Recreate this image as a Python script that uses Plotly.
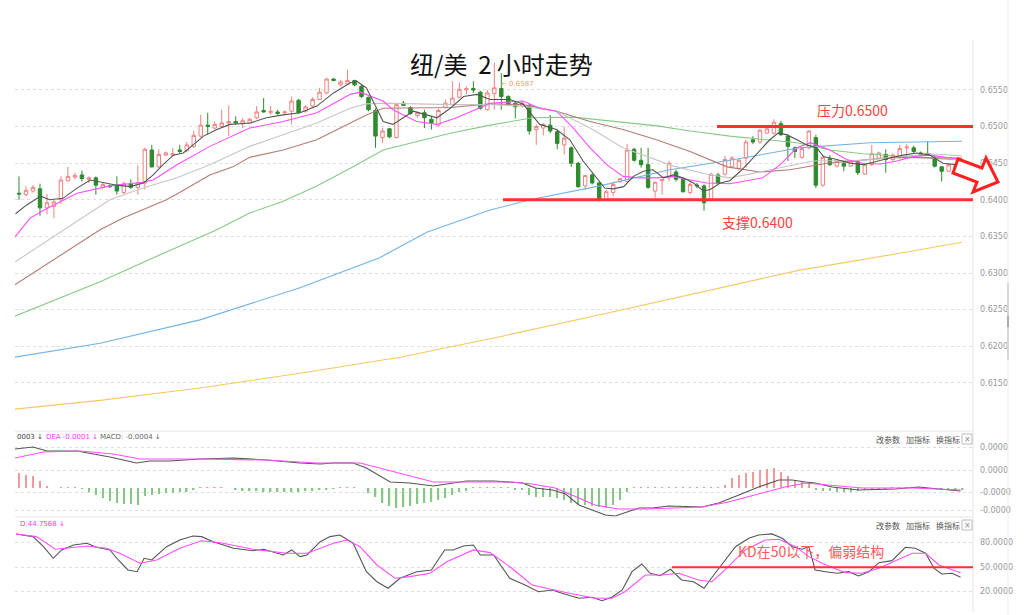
import plotly.graph_objects as go

W, H = 1024, 615
ML, MR = 15, 51
PW = W - ML - MR
CJK = "Noto Sans CJK SC"

# ---------------- candle data (2h NZD/USD) ----------------
open_ = [0.6409, 0.6407, 0.6412, 0.6415, 0.6389, 0.6391, 0.6400, 0.6426, 0.6431, 0.6434,
         0.6428, 0.6430, 0.6417, 0.6419, 0.6420, 0.6410, 0.6422, 0.6417, 0.6423, 0.6468,
         0.6445, 0.6461, 0.6461, 0.6468, 0.6467, 0.6473, 0.6487, 0.6502, 0.6498, 0.6500,
         0.6505, 0.6507, 0.6504, 0.6505, 0.6512, 0.6522, 0.6519, 0.6520, 0.6519, 0.6521,
         0.6536, 0.6521, 0.6528, 0.6537, 0.6546, 0.6565, 0.6557, 0.6558, 0.6563, 0.6555,
         0.6540, 0.6522, 0.6485, 0.6497, 0.6485, 0.6532, 0.6526, 0.6515, 0.6519, 0.6510,
         0.6502, 0.6526, 0.6530, 0.6540, 0.6550, 0.6552, 0.6547, 0.6523, 0.6545, 0.6552,
         0.6541, 0.6532, 0.6528, 0.6529, 0.6496, 0.6498, 0.6502, 0.6493, 0.6475, 0.6471,
         0.6450, 0.6419, 0.6434, 0.6423, 0.6400, 0.6410, 0.6425, 0.6425, 0.6469, 0.6454,
         0.6448, 0.6412, 0.6426, 0.6430, 0.6438, 0.6428, 0.6410, 0.6420, 0.6419, 0.6400,
         0.6434, 0.6435, 0.6445, 0.6443, 0.6457, 0.6482, 0.6479, 0.6491, 0.6491, 0.6504,
         0.6487, 0.6471, 0.6458, 0.6471, 0.6485, 0.6420, 0.6456, 0.6446, 0.6450, 0.6446,
         0.6452, 0.6435, 0.6448, 0.6457, 0.6462, 0.6455, 0.6458, 0.6471, 0.6471, 0.6464,
         0.6463, 0.6457, 0.6445, 0.6439, 0.6444, 0.6448]
high = [0.6432, 0.6419, 0.6420, 0.6422, 0.6408, 0.6400, 0.6432, 0.6445, 0.6437, 0.6440,
        0.6432, 0.6432, 0.6423, 0.6421, 0.6432, 0.6425, 0.6428, 0.6447, 0.6471, 0.6475,
        0.6469, 0.6466, 0.6471, 0.6475, 0.6479, 0.6494, 0.6516, 0.6519, 0.6507, 0.6523,
        0.6529, 0.6514, 0.6512, 0.6512, 0.6528, 0.6539, 0.6528, 0.6523, 0.6522, 0.6541,
        0.6538, 0.6529, 0.6540, 0.6553, 0.6567, 0.6566, 0.6564, 0.6578, 0.6564, 0.6557,
        0.6541, 0.6525, 0.6498, 0.6498, 0.6532, 0.6535, 0.6528, 0.6521, 0.6523, 0.6514,
        0.6525, 0.6537, 0.6562, 0.6560, 0.6555, 0.6562, 0.6549, 0.6550, 0.6587, 0.6573,
        0.6543, 0.6535, 0.6535, 0.6531, 0.6503, 0.6505, 0.6516, 0.6496, 0.6500, 0.6473,
        0.6452, 0.6434, 0.6437, 0.6425, 0.6414, 0.6425, 0.6430, 0.6476, 0.6471, 0.6471,
        0.6471, 0.6425, 0.6428, 0.6453, 0.6441, 0.6430, 0.6425, 0.6423, 0.6421, 0.6437,
        0.6437, 0.6460, 0.6460, 0.6456, 0.6482, 0.6487, 0.6497, 0.6500, 0.6510, 0.6508,
        0.6489, 0.6473, 0.6472, 0.6495, 0.6489, 0.6461, 0.6461, 0.6455, 0.6453, 0.6454,
        0.6454, 0.6450, 0.6475, 0.6466, 0.6469, 0.6464, 0.6475, 0.6476, 0.6474, 0.6466,
        0.6480, 0.6460, 0.6446, 0.6450, 0.6450, 0.6450]
low = [0.6400, 0.6405, 0.6410, 0.6378, 0.6380, 0.6375, 0.6394, 0.6425, 0.6428, 0.6425,
       0.6423, 0.6407, 0.6415, 0.6416, 0.6407, 0.6408, 0.6415, 0.6407, 0.6414, 0.6444,
       0.6444, 0.6460, 0.6460, 0.6463, 0.6465, 0.6471, 0.6485, 0.6489, 0.6496, 0.6499,
       0.6487, 0.6503, 0.6498, 0.6504, 0.6510, 0.6519, 0.6516, 0.6516, 0.6516, 0.6503,
       0.6518, 0.6519, 0.6526, 0.6537, 0.6544, 0.6562, 0.6555, 0.6557, 0.6555, 0.6539,
       0.6521, 0.6471, 0.6478, 0.6484, 0.6484, 0.6528, 0.6516, 0.6512, 0.6498, 0.6496,
       0.6500, 0.6525, 0.6529, 0.6539, 0.6544, 0.6546, 0.6523, 0.6522, 0.6523, 0.6523,
       0.6528, 0.6511, 0.6526, 0.6489, 0.6475, 0.6488, 0.6491, 0.6469, 0.6462, 0.6445,
       0.6416, 0.6413, 0.6421, 0.6398, 0.6399, 0.6405, 0.6423, 0.6425, 0.6452, 0.6444,
       0.6415, 0.6403, 0.6407, 0.6425, 0.6425, 0.6410, 0.6407, 0.6416, 0.6385, 0.6398,
       0.6421, 0.6433, 0.6443, 0.6440, 0.6444, 0.6476, 0.6476, 0.6490, 0.6489, 0.6487,
       0.6453, 0.6457, 0.6456, 0.6469, 0.6416, 0.6418, 0.6446, 0.6444, 0.6439, 0.6445,
       0.6434, 0.6434, 0.6446, 0.6455, 0.6437, 0.6453, 0.6456, 0.6458, 0.6464, 0.6460,
       0.6460, 0.6444, 0.6425, 0.6438, 0.6443, 0.6441]
close = [0.6408, 0.6413, 0.6417, 0.6389, 0.6396, 0.6397, 0.6427, 0.6432, 0.6433, 0.6429,
         0.6430, 0.6420, 0.6421, 0.6418, 0.6412, 0.6422, 0.6417, 0.6423, 0.6469, 0.6445,
         0.6462, 0.6464, 0.6463, 0.6466, 0.6475, 0.6488, 0.6502, 0.6500, 0.6503, 0.6505,
         0.6507, 0.6505, 0.6508, 0.6510, 0.6520, 0.6520, 0.6521, 0.6518, 0.6520, 0.6535,
         0.6519, 0.6527, 0.6537, 0.6547, 0.6565, 0.6563, 0.6561, 0.6563, 0.6557, 0.6541,
         0.6523, 0.6487, 0.6494, 0.6486, 0.6530, 0.6529, 0.6518, 0.6519, 0.6512, 0.6505,
         0.6522, 0.6532, 0.6539, 0.6551, 0.6552, 0.6550, 0.6525, 0.6546, 0.6553, 0.6541,
         0.6530, 0.6527, 0.6532, 0.6494, 0.6500, 0.6503, 0.6494, 0.6477, 0.6484, 0.6450,
         0.6418, 0.6433, 0.6423, 0.6399, 0.6411, 0.6421, 0.6429, 0.6468, 0.6454, 0.6448,
         0.6417, 0.6424, 0.6428, 0.6450, 0.6428, 0.6411, 0.6421, 0.6419, 0.6396, 0.6435,
         0.6423, 0.6455, 0.6457, 0.6454, 0.6479, 0.6479, 0.6495, 0.6497, 0.6506, 0.6489,
         0.6473, 0.6466, 0.6470, 0.6494, 0.6420, 0.6458, 0.6448, 0.6453, 0.6446, 0.6452,
         0.6437, 0.6448, 0.6463, 0.6464, 0.6455, 0.6461, 0.6470, 0.6472, 0.6466, 0.6461,
         0.6462, 0.6446, 0.6439, 0.6448, 0.6448, 0.6443]
bars = list(range(len(close)))

# ---------------- moving averages (bar index, price) ----------------
ma5 = [(-0.5, .6381), (1.1, .6393), (3.1, .6405), (4.4, .6400), (6.3, .6402), (8.3, .6416), (10.2, .6427),
       (12.1, .6423), (14.0, .6420), (15.9, .6418), (17.8, .6423), (19.2, .6434), (20.6, .6448), (22.1, .6461),
       (23.5, .6464), (24.9, .6475), (26.4, .6487), (28.3, .6496), (30.2, .6503), (33.1, .6505), (35.4, .6512),
       (37.8, .6516), (40.2, .6519), (42.6, .6528), (45.0, .6546), (47.4, .6560), (48.3, .6562), (49.7, .6553),
       (51.2, .6525), (52.1, .6507), (53.5, .6503), (55.0, .6512), (56.4, .6521), (58.3, .6516), (59.8, .6512),
       (61.7, .6525), (63.6, .6541), (65.5, .6544), (67.4, .6537), (70.2, .6537), (72.1, .6531), (73.1, .6519),
       (74.5, .6503), (76.9, .6496), (78.8, .6482), (80.7, .6453), (82.6, .6430), (83.8, .6416), (85.0, .6415),
       (86.5, .6418), (87.9, .6432), (89.3, .6439), (90.7, .6441), (92.2, .6430), (93.6, .6434), (95.0, .6430),
       (96.5, .6423), (97.9, .6412), (98.9, .6414), (100.3, .6423), (101.7, .6426), (103.2, .6439), (104.6, .6453),
       (106.0, .6468), (107.4, .6482), (108.6, .6491), (109.8, .6489), (111.3, .6482), (112.7, .6475),
       (114.1, .6471), (115.1, .6459), (117.0, .6455), (118.9, .6450), (120.8, .6448), (122.7, .6453),
       (124.6, .6457), (126.5, .6461), (128.4, .6464), (130.3, .6461), (132.2, .6450), (134.9, .6447)]
ma10 = [(-0.6, .6349), (1.6, .6375), (3.4, .6385), (8.3, .6409), (13.0, .6419), (17.7, .6424), (19.2, .6427),
        (22.6, .6448), (27.3, .6473), (33.0, .6498), (37.8, .6507), (42.6, .6519), (47.4, .6544), (48.8, .6547),
        (52.1, .6535), (53.5, .6523), (56.9, .6507), (59.8, .6503), (62.6, .6512), (67.4, .6532), (72.1, .6535),
        (74.5, .6525), (76.9, .6521), (79.3, .6498), (81.7, .6471), (84.1, .6448), (86.4, .6432), (88.8, .6430),
        (91.2, .6430), (93.6, .6432), (96.0, .6427), (98.4, .6423), (101.7, .6422), (106.4, .6430), (108.9, .6448),
        (111.3, .6471), (113.2, .6478), (116.0, .6468), (118.4, .6455), (120.7, .6450), (123.2, .6449),
        (125.6, .6453), (127.9, .6459), (130.3, .6461), (134.9, .6455)]
ma20 = [(-0.6, .6315), (9.0, .6375), (13.0, .6400), (17.7, .6416), (22.6, .6430), (27.3, .6448), (33.0, .6473),
        (37.8, .6489), (42.6, .6505), (47.4, .6525), (49.7, .6531), (52.1, .6532), (56.9, .6531), (61.7, .6530),
        (67.4, .6530), (72.1, .6528), (76.9, .6521), (81.7, .6498), (86.4, .6471), (91.2, .6455), (93.6, .6446),
        (98.4, .6435), (101.7, .6430), (107.0, .6440), (113.6, .6453), (120.7, .6454), (130.3, .6463),
        (134.9, .6460)]
ma30 = [(-0.6, .6284), (11.6, .6359), (14.9, .6375), (17.7, .6386), (21.1, .6400), (22.6, .6408), (27.3, .6434),
        (30.6, .6445), (33.0, .6458), (37.8, .6468), (42.6, .6482), (47.4, .6505), (49.7, .6516), (52.1, .6525),
        (56.9, .6525), (61.7, .6526), (67.4, .6531), (72.1, .6530), (76.9, .6521), (81.7, .6507), (86.4, .6496),
        (91.2, .6482), (96.0, .6466), (101.3, .6445), (106.0, .6438), (110.3, .6441), (115.6, .6450),
        (125.0, .6458), (134.9, .6457)]
ma60 = [(-0.6, .6241), (11.6, .6288), (20.2, .6325), (28.3, .6359), (33.0, .6382), (37.8, .6398), (42.6, .6419),
        (47.4, .6443), (52.1, .6468), (56.9, .6480), (61.7, .6491), (67.4, .6502), (73.5, .6512), (79.3, .6513),
        (86.4, .6506), (91.3, .6501), (96.0, .6494), (101.7, .6487), (111.3, .6478), (116.0, .6468),
        (120.7, .6463), (125.6, .6460), (130.3, .6457), (134.9, .6454)]
ma120 = [(-0.6, .6185), (11.6, .6204), (25.9, .6236), (40.2, .6280), (51.6, .6321), (58.4, .6356), (67.4, .6386),
         (73.1, .6400), (83.1, .6419), (93.1, .6441), (101.7, .6454), (111.7, .6471), (121.7, .6478),
         (134.9, .6480)]
ma250 = [(-0.6, .6114), (11.6, .6126), (25.9, .6143), (40.2, .6163), (54.5, .6185), (68.8, .6213), (83.1, .6243),
         (97.4, .6274), (111.7, .6304), (126.0, .6327), (134.9, .6342)]

# ---------------- MACD ----------------
macd_hist = [0.00015, 0.00013, 0.00012, 0.00007, 0.00002, 0.0, 0.00001, 0.00001, 0.00001, -0.00001,
             -0.00004, -0.00007, -0.0001, -0.00013, -0.00015, -0.00016, -0.00016, -0.00017, -0.00008, -0.00007,
             -0.00006, -0.00005, -0.00005, -0.00004, -0.00004, -0.00002, 0.00001, 0.00001, 0.00001, 0.00001,
             0.0, -0.00002, -0.00003, -0.00003, -0.00003, -0.00004, -0.00004, -0.00004, -0.00004, -0.00004,
             -0.00004, -0.00003, -0.00003, -0.00002, -0.00002, -0.00001, 0.00001, 0.00001, 0.00001, 0.0,
             -0.00005, -0.00009, -0.00015, -0.00018, -0.0002, -0.00019, -0.00018, -0.00016, -0.00015, -0.00014,
             -0.00012, -0.0001, -0.00007, -0.00004, -0.00003, 0.00001, 0.00001, 0.00001, 0.00001, 0.00001,
             0.00001, -0.00002, -0.00002, -0.00007, -0.00009, -0.00009, -0.00009, -0.0001, -0.00012, -0.00015,
             -0.00016, -0.00017, -0.00018, -0.00019, -0.0002, -0.00017, -0.00012, -0.00004, 0.00001, 0.00001,
             0.00001, 0.00001, 0.00001, 0.00001, 0.00001, 0.00001, 0.00001, 0.00001, 0.00001, 0.00001,
             0.00001, 0.00003, 0.0001, 0.00013, 0.00015, 0.00016, 0.00018, 0.00019, 0.0002, 0.00016,
             0.00012, 0.00008, 0.00006, 0.00005, -0.00002, -0.00003, -0.00003, -0.00004, -0.00004, -0.00004,
             -0.00003, -0.00002, -0.00002, -0.00001, -0.00001, 0.00001, 0.00001, 0.00001, 0.00001, 0.0,
             -0.00001, -0.00001, -0.00002, -0.00002, -0.00002, -0.00002]
dif = [(-0.6, .00039), (2.0, .00041), (4.0, .00037), (8.3, .00037), (13.0, .00031), (16.8, .00025), (18.7, .00027),
       (21.6, .00027), (25.9, .00029), (30.7, .00030), (35.4, .00028), (40.2, .00025), (43.1, .00024), (45.0, .00025),
       (47.8, .00025), (49.7, .00020), (53.1, .00006), (55.9, .00005), (59.3, .00002), (61.2, .00004), (64.0, .00007),
       (67.9, .00007), (70.5, .00006), (72.0, .00005), (73.9, 0.0), (76.3, -.00002), (78.2, -.00006), (80.1, -.00017),
       (82.0, -.00022), (83.9, -.00027), (85.3, -.00028), (86.7, -.00025), (88.7, -.00020), (90.6, -.00020),
       (92.9, -.00018), (97.7, -.00019), (100.1, -.00015), (103.0, -.00007), (105.8, .00001), (108.7, .00008),
       (110.6, .00008), (112.5, .00006), (113.9, .00005), (116.3, .00001), (120.1, -.00002), (125.4, -.00001),
       (128.7, .00001), (131.6, -.00001), (134.7, -.00003)]
dea = [(-0.6, .00030), (3.5, .00036), (8.7, .00037), (13.5, .00034), (17.3, .00029), (25.9, .00029), (35.4, .00028),
       (42.6, .00025), (48.8, .00025), (54.5, .00015), (59.3, .00006), (64.0, .00006), (70.5, .00006), (73.4, .00004),
       (76.7, 0.0), (80.1, -.00010), (82.4, -.00017), (85.8, -.00021), (89.6, -.00021), (97.7, -.00019),
       (101.5, -.00014), (106.3, -.00005), (109.6, .00001), (112.5, .00005), (115.8, .00003), (120.6, 0.0),
       (127.8, 0.0), (134.7, -.00002)]

# ---------------- KD ----------------
kd_k = [(-0.4, 90.7), (2.0, 87.4), (3.5, 75.1), (4.9, 60.9), (6.1, 71.1), (7.8, 77.2), (9.7, 79.3), (11.1, 74.4),
        (13.0, 71.1), (14.2, 58.8), (15.6, 46.6), (16.9, 44.5), (17.9, 60.9), (19.0, 58.8), (21.1, 75.1), (23.0, 83.3),
        (24.9, 88.2), (26.1, 87.4), (27.8, 81.2), (30.7, 73.1), (33.5, 70.2), (35.0, 71.9), (37.8, 64.9), (39.0, 71.1),
        (40.2, 62.9), (41.2, 64.9), (43.1, 81.2), (44.5, 87.4), (45.9, 89.4), (47.8, 79.3), (49.7, 44.5), (51.2, 32.2),
        (52.8, 24.2), (54.5, 36.4), (56.9, 44.5), (59.0, 46.6), (60.9, 71.1), (62.1, 71.1), (63.6, 76.0), (65.0, 77.2),
        (66.0, 64.9), (67.9, 64.9), (70.2, 36.4), (72.4, 28.2), (74.3, 20.0), (76.3, 22.1), (77.7, 18.0), (80.1, 11.9),
        (82.0, 13.1), (83.4, 9.0), (84.8, 13.1), (86.3, 22.1), (87.7, 44.5), (89.1, 53.9), (90.3, 42.5), (91.7, 39.6),
        (93.2, 47.4), (94.8, 34.3), (96.5, 32.2), (98.0, 24.2), (99.4, 40.4), (101.0, 58.8), (102.5, 75.1),
        (104.4, 85.4), (105.8, 89.4), (107.7, 90.7), (109.2, 85.4), (110.6, 75.1), (112.0, 71.9), (113.0, 75.1),
        (113.9, 46.6), (115.4, 44.5), (117.0, 42.5), (118.7, 44.5), (120.1, 39.2), (121.6, 44.5), (123.0, 55.5),
        (124.9, 58.0), (126.8, 74.4), (128.2, 73.1), (129.7, 67.0), (130.9, 48.7), (132.0, 41.7), (133.5, 42.5),
        (134.7, 37.6)]
kd_d = [(-0.4, 90.7), (2.5, 87.4), (5.2, 71.9), (6.8, 73.1), (9.7, 76.0), (12.5, 73.1), (14.4, 67.0), (17.3, 54.8),
        (19.7, 58.8), (23.0, 73.1), (26.1, 82.4), (28.8, 80.0), (33.5, 71.9), (38.3, 67.0), (41.2, 67.0), (45.0, 79.3),
        (46.9, 83.3), (48.8, 75.1), (51.2, 52.7), (53.8, 36.4), (55.9, 38.4), (58.8, 42.5), (61.2, 56.7), (65.0, 71.1),
        (67.4, 67.8), (70.5, 48.7), (73.4, 28.2), (77.7, 20.0), (82.4, 11.9), (84.8, 11.9), (86.7, 20.0), (89.6, 40.4),
        (92.0, 40.4), (94.4, 42.5), (97.2, 34.3), (99.1, 32.2), (101.0, 46.6), (103.9, 71.1), (106.8, 83.3),
        (108.7, 84.2), (111.1, 75.1), (113.0, 62.9), (114.9, 54.8), (118.2, 43.3), (120.6, 42.5), (123.0, 48.7),
        (125.8, 58.8), (127.8, 67.0), (129.7, 67.0), (131.6, 52.7), (134.7, 43.3)]

price_ticks = [0.6150, 0.6200, 0.6250, 0.6300, 0.6350, 0.6400, 0.6450, 0.6500, 0.6550]
macd_ticks = [0.00041, 0.00018, -0.00004, -0.00022]
macd_tick_text = ["0.0000", "0.0000", "-0.0000", "-0.0000"]
kd_ticks = [20, 50, 80]
kd_tick_text = ["20.0000", "50.0000", "80.0000"]
resistance, support, kd_level = 0.6500, 0.6400, 50

# ---------------- helpers ----------------
def P(x, y):
    return (x - ML) / PW, 1 - y / H

def xs(pts):
    return [p[0] for p in pts]

def ys(pts):
    return [p[1] for p in pts]

fig = go.Figure()

ma_styles = [(ma250, "#f7c766"), (ma120, "#72b3e6"), (ma60, "#86c986"), (ma30, "#b57b74"),
             (ma20, "#c6c6c6"), (ma10, "#ff4dff"), (ma5, "#555555")]
for pts, col in ma_styles:
    fig.add_trace(go.Scatter(x=xs(pts), y=ys(pts), mode="lines", line=dict(color=col, width=1.1),
                             xaxis="x", yaxis="y", showlegend=False, hoverinfo="skip"))

fig.add_trace(go.Candlestick(
    x=bars, open=open_, high=high, low=low, close=close,
    increasing=dict(line=dict(color="#f08080", width=1), fillcolor="#ffffff"),
    decreasing=dict(line=dict(color="#2e8b2e", width=1), fillcolor="#2e8b2e"),
    whiskerwidth=0, xaxis="x", yaxis="y", showlegend=False))

fig.add_trace(go.Bar(x=bars, y=macd_hist, width=0.22,
                     marker=dict(color=["#f29a9a" if v >= 0 else "#86c786" for v in macd_hist], line=dict(width=0)),
                     xaxis="x2", yaxis="y2", showlegend=False))
fig.add_trace(go.Scatter(x=xs(dif), y=ys(dif), mode="lines", line=dict(color="#555555", width=1.1),
                         xaxis="x2", yaxis="y2", showlegend=False))
fig.add_trace(go.Scatter(x=xs(dea), y=ys(dea), mode="lines", line=dict(color="#ff4dff", width=1.1),
                         xaxis="x2", yaxis="y2", showlegend=False))
fig.add_trace(go.Scatter(x=xs(kd_k), y=ys(kd_k), mode="lines", line=dict(color="#555555", width=1.1),
                         xaxis="x3", yaxis="y3", showlegend=False))
fig.add_trace(go.Scatter(x=xs(kd_d), y=ys(kd_d), mode="lines", line=dict(color="#ff4dff", width=1.1),
                         xaxis="x3", yaxis="y3", showlegend=False))

xr = [(15 - 19) / 6.99, (973 - 19) / 6.99]
xcommon = dict(range=xr, showticklabels=False, showgrid=False, zeroline=False, showline=False, ticks="")
ycommon = dict(side="right", showgrid=True, gridcolor="#dedede", griddash="dot", gridwidth=1, zeroline=False,
               showline=False, ticks="", tickfont=dict(size=8, color="#999999", family="DejaVu Sans"),
               ticklabelstandoff=6)

fig.update_layout(
    width=W, height=H, autosize=False,
    margin=dict(l=ML, r=MR, t=0, b=0),
    paper_bgcolor="white", plot_bgcolor="white",
    showlegend=False,
    xaxis=dict(domain=[0, 1], anchor="y", rangeslider=dict(visible=False), **xcommon),
    xaxis2=dict(domain=[0, 1], anchor="y2", matches="x", **xcommon),
    xaxis3=dict(domain=[0, 1], anchor="y3", matches="x", **xcommon),
    yaxis=dict(domain=[1 - 425 / H, 1 - 55 / H], range=[0.60924, 0.65978], anchor="x",
               tickvals=price_ticks, tickformat=".4f", **ycommon),
    yaxis2=dict(domain=[1 - 517 / H, 1 - 432 / H], range=[-0.00029, 0.00056], anchor="x2",
                tickvals=macd_ticks, ticktext=macd_tick_text, **ycommon),
    yaxis3=dict(domain=[1 - 605 / H, 1 - 518 / H], range=[3.7, 110.2], anchor="x3",
                tickvals=kd_ticks, ticktext=kd_tick_text, **ycommon),
)

shapes = []

def pline(x0, y0, x1, y1, color, width):
    a, b = P(x0, y0)
    c, d = P(x1, y1)
    shapes.append(dict(type="line", xref="paper", yref="paper", x0=a, y0=b, x1=c, y1=d,
                       line=dict(color=color, width=width)))

# frame / separators
pline(973, 40, 973, 612, "#e3e3e3", 1)
pline(1008, 0, 1008, 615, "#ececec", 1)
pline(1008, 283, 1008, 360, "#d6d6d6", 2)
pline(1008, 316, 1008, 327, "#aaaaaa", 2)
pline(15, 431, 973, 431, "#e6e6e6", 1)
pline(15, 517, 973, 517, "#e6e6e6", 1)

# key levels
shapes.append(dict(type="line", xref="x", yref="y", x0=(717 - 19) / 6.99, x1=xr[1], y0=resistance, y1=resistance,
                   line=dict(color="#ff3030", width=3)))
shapes.append(dict(type="line", xref="x", yref="y", x0=(503 - 19) / 6.99, x1=xr[1], y0=support, y1=support,
                   line=dict(color="#ff3030", width=3)))
shapes.append(dict(type="line", xref="x3", yref="y3", x0=(672 - 19) / 6.99, x1=xr[1], y0=kd_level, y1=kd_level,
                   line=dict(color="#ff3030", width=2)))

# hollow arrow
arrow_px = [(958, 159), (982, 168), (986, 158), (998, 182), (973, 192), (977, 182), (953, 173)]
path = ""
for k, (ax, ay) in enumerate(arrow_px):
    a, b = P(ax, ay)
    path += ("M" if k == 0 else "L") + f"{a:.5f},{b:.5f} "
path += "Z"
shapes.append(dict(type="path", xref="paper", yref="paper", path=path,
                   line=dict(color="#ff2020", width=3), fillcolor="white"))

# close boxes
for yc in (439, 525):
    a, b = P(962, yc - 5)
    c, d = P(972, yc + 5)
    shapes.append(dict(type="rect", xref="paper", yref="paper", x0=a, y0=b, x1=c, y1=d,
                       line=dict(color="#bbbbbb", width=1), fillcolor="white"))

fig.update_layout(shapes=shapes)

ann = []

def txt(s, x, y, size, color, anchor="left", family=CJK):
    a, b = P(x, y)
    ann.append(dict(text=s, x=a, y=b, xref="paper", yref="paper", xanchor=anchor, yanchor="middle",
                    showarrow=False, font=dict(size=size, color=color, family=family)))

txt("\u2190 0.6587", 499, 84, 7, "#f0a050", family="DejaVu Sans")
txt("纽/美\u00a0\u00a02 小时走势", 501, 64, 24, "#111111", anchor="center")
txt("压力0.6500", 852, 110, 14, "#ff4040", anchor="center")
txt("支撑0.6400", 757, 222, 14, "#ff4040", anchor="center")
txt("KD在50以下，偏弱结构", 811, 551, 14, "#ff5a5a", anchor="center")

txt("0003 \u2193", 15, 437, 7, "#444444", family="DejaVu Sans")
txt("DEA -0.0001 \u2193", 44, 437, 7, "#ff33ff", family="DejaVu Sans")
txt("MACD: -0.0004 \u2193", 98, 437, 7, "#666666", family="DejaVu Sans")
txt("D:44.7568 \u2193", 18, 524, 7, "#ff33ff", family="DejaVu Sans")

for yc in (439, 525):
    txt("改参数", 874, yc, 8, "#555555")
    txt("加指标", 904, yc, 8, "#555555")
    txt("换指标", 934, yc, 8, "#555555")
    txt("×", 967, yc, 8, "#888888", anchor="center", family="DejaVu Sans")

fig.update_layout(annotations=ann)

fig.write_html("out.html",
               config={"displayModeBar": False},
               post_script="document.body.style.margin='0px';document.body.style.overflow='hidden';")
